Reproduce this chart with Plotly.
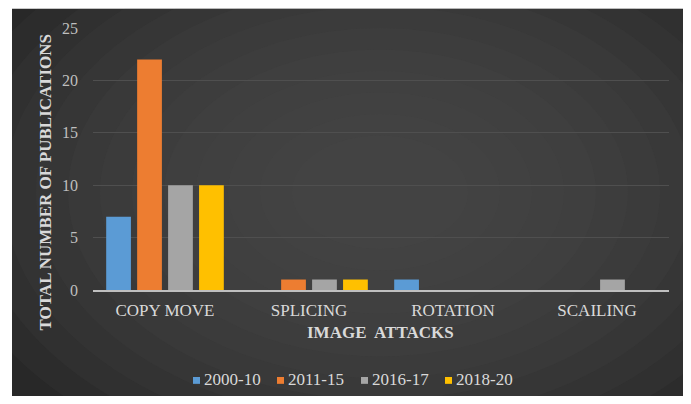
import plotly.graph_objects as go

categories = ["COPY MOVE", "SPLICING", "ROTATION", "SCAILING"]
series_names = ["2000-10", "2011-15", "2016-17", "2018-20"]
values_2000_10 = [7, 0, 1, 0]
values_2011_15 = [22, 1, 0, 0]
values_2016_17 = [10, 1, 0, 1]
values_2018_20 = [10, 1, 0, 0]
y_ticks = [0, 5, 10, 15, 20, 25]

colors = ["#5b9bd5", "#ed7d31", "#a5a5a5", "#ffc000"]
all_values = [values_2000_10, values_2011_15, values_2016_17, values_2018_20]

# page body has an 8px margin; work in page pixel coords and convert
OFF = 8
W, H = 691 - 2 * OFF, 404 - 2 * OFF
PLOT_L, PLOT_R, PLOT_T, PLOT_B = 93, 669, 22, 290  # page px
L = PLOT_L - OFF
T = PLOT_T - OFF
R = W - (PLOT_R - OFF)
B = H - (PLOT_B - OFF)
pw, ph = PLOT_R - PLOT_L, PLOT_B - PLOT_T

def px_x(px):
    return (px - PLOT_L) / pw

def px_y(py):
    return (PLOT_B - py) / ph

fig = go.Figure()
for name, vals, col in zip(series_names, all_values, colors):
    fig.add_trace(go.Bar(
        x=categories, y=vals, name=name,
        marker=dict(color=col, line=dict(width=0)),
        showlegend=False,
    ))

shapes = []
shapes.append(dict(type="rect", xref="paper", yref="paper",
                   x0=px_x(12), x1=px_x(687), y0=px_y(410), y1=px_y(2),
                   fillcolor="#282828", line=dict(width=0), layer="below"))
cx, cy = 380, 190
for i in range(12):
    rx = 440 - i * 32
    ry = 300 - i * 22
    shapes.append(dict(type="circle", xref="paper", yref="paper",
                       x0=px_x(cx - rx), x1=px_x(cx + rx),
                       y0=px_y(cy + ry), y1=px_y(cy - ry),
                       fillcolor="#4c4c4c", opacity=0.13, line=dict(width=0),
                       layer="below"))
# white cover strips outside the dark panel
shapes.append(dict(type="rect", xref="paper", yref="paper",
                   x0=px_x(-60), x1=px_x(12), y0=px_y(470), y1=px_y(-60),
                   fillcolor="white", line=dict(width=0), layer="below"))
shapes.append(dict(type="rect", xref="paper", yref="paper",
                   x0=px_x(-60), x1=px_x(770), y0=px_y(2), y1=px_y(-60),
                   fillcolor="white", line=dict(width=0), layer="below"))
shapes.append(dict(type="rect", xref="paper", yref="paper",
                   x0=px_x(687), x1=px_x(770), y0=px_y(470), y1=px_y(-60),
                   fillcolor="white", line=dict(width=0), layer="below"))

annotations = [
    dict(text="<b>TOTAL NUMBER OF PUBLICATIONS</b>", xref="paper", yref="paper",
         x=px_x(45), y=px_y(180), xanchor="center", yanchor="middle",
         textangle=-90, showarrow=False,
         font=dict(size=17, color="#d9d9d9", family="Liberation Serif")),
    dict(text="<b>IMAGE  ATTACKS</b>", xref="paper", yref="paper",
         x=px_x(380), y=px_y(333), xanchor="center", yanchor="middle",
         showarrow=False,
         font=dict(size=17, color="#d9d9d9", family="Liberation Serif")),
]

# custom compact legend (small squares right next to the labels)
legend_sq_x = [193, 277, 361, 445]
legend_y = 382
for name, col, sx in zip(series_names, colors, legend_sq_x):
    shapes.append(dict(type="rect", xref="paper", yref="paper",
                       x0=px_x(sx), x1=px_x(sx + 7),
                       y0=px_y(legend_y + 4), y1=px_y(legend_y - 3),
                       fillcolor=col, line=dict(width=0)))
    annotations.append(dict(text=name, xref="paper", yref="paper",
                            x=px_x(sx + 9), y=px_y(legend_y),
                            xanchor="left", yanchor="middle", showarrow=False,
                            font=dict(size=17, color="#d9d9d9",
                                      family="Liberation Serif")))

fig.update_layout(
    width=W, height=H,
    margin=dict(l=L, r=R, t=T, b=B),
    paper_bgcolor="white",
    plot_bgcolor="rgba(0,0,0,0)",
    barmode="group",
    bargap=0.14,
    bargroupgap=0.2,
    font=dict(family="Liberation Serif", color="#d9d9d9"),
    shapes=shapes,
    annotations=annotations,
    showlegend=False,
    xaxis=dict(
        showgrid=False, showline=True, linecolor="#bfbfbf", linewidth=1.5,
        ticks="", tickfont=dict(size=17, color="#d9d9d9"), ticklabelstandoff=4,
        fixedrange=True,
    ),
    yaxis=dict(
        range=[0, 25], tickvals=y_ticks, showgrid=True, gridcolor="#4f4f4f",
        gridwidth=1, zeroline=False, showline=False, ticks="",
        tickfont=dict(size=16, color="#bfbfbf"), ticklabelstandoff=14,
        fixedrange=True,
    ),
)

fig.write_html("out.html")
